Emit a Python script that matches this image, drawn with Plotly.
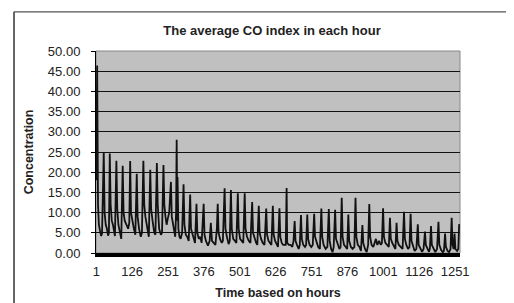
import plotly.graph_objects as go

# Vertices of the hourly CO series (hour, concentration)
hours = [1, 4, 7, 10, 14, 18, 21, 24, 27, 30, 34, 38, 42, 45, 48, 51, 55, 59, 63, 66,
         71, 74, 78, 83, 88, 93, 96, 100, 106, 112, 116, 119, 122, 127, 132, 137, 142, 145, 150, 156,
         160, 165, 168, 172, 178, 184, 189, 192, 197, 203, 207, 212, 215, 220, 226, 230, 235, 238, 242, 246,
         250, 255, 258, 261, 264, 268, 272, 276, 279, 281, 283, 284, 287, 291, 295, 300, 305, 308, 313, 318,
         323, 328, 331, 336, 341, 345, 350, 353, 358, 363, 368, 375, 378, 383, 390, 396, 400, 404, 410, 416,
         421, 424, 427, 432, 438, 442, 448, 451, 456, 462, 466, 470, 473, 478, 484, 489, 494, 497, 502, 508,
         513, 518, 521, 526, 532, 538, 544, 547, 552, 558, 562, 567, 570, 575, 581, 587, 593, 596, 601, 607,
         611, 616, 619, 624, 630, 634, 639, 642, 647, 652, 658, 661, 664, 666, 672, 678, 684, 688, 692, 695,
         700, 706, 710, 714, 717, 722, 728, 732, 736, 739, 744, 750, 755, 760, 763, 768, 774, 780, 785, 788,
         793, 800, 806, 811, 814, 819, 824, 828, 833, 836, 842, 848, 852, 856, 859, 864, 870, 875, 879, 882,
         888, 894, 900, 904, 907, 912, 918, 923, 928, 931, 937, 943, 948, 952, 955, 960, 966, 970, 975, 980,
         986, 992, 996, 1000, 1003, 1008, 1014, 1020, 1024, 1027, 1032, 1038, 1043, 1047, 1050, 1055, 1062, 1068, 1073, 1076,
         1081, 1087, 1092, 1096, 1099, 1104, 1110, 1116, 1121, 1124, 1130, 1136, 1141, 1146, 1149, 1154, 1160, 1163, 1167, 1170,
         1176, 1182, 1188, 1193, 1196, 1202, 1208, 1212, 1216, 1219, 1225, 1230, 1235, 1239, 1242, 1246, 1249, 1252, 1258, 1262,
         1265, 1267]
co_values = [18, 46.4, 12, 7, 5.5, 4.2, 4.8, 12, 25, 10, 7, 6, 4.3, 5, 24.6, 12, 8, 7, 5.5, 4.2,
             22.8, 11, 7, 5.5, 3.5, 21.6, 10, 8, 7, 6, 7.5, 22.8, 10, 7.5, 6, 4.5, 19.6, 9, 6, 4,
             5, 22.8, 12, 9, 6, 4, 20.6, 11, 8, 5, 4.5, 22.3, 12, 6, 4.5, 5, 21.8, 12, 9, 7,
             8.5, 10, 14, 17.6, 9, 7.5, 5.5, 4, 10, 28, 8, 18.8, 6, 4, 3.5, 5, 17, 7, 4.5, 4,
             3, 14.5, 6, 4.5, 3.5, 2.5, 12.2, 5, 3.5, 4, 2.5, 12.2, 4.5, 3, 1.8, 3, 7.5, 3, 2.5, 2,
             6, 12.2, 5, 3.5, 2.5, 3, 16, 6, 4, 2.2, 3, 15.6, 6, 3.5, 3, 2.5, 14.8, 6, 3.5, 3,
             2.5, 14.8, 6, 4, 3, 2.5, 12.6, 5, 3.5, 2.5, 2, 11.7, 5, 3.5, 2.5, 2, 11, 4.5, 3, 2.2,
             2, 11.7, 4.5, 3, 2, 1.5, 11.1, 4, 2.5, 2, 2, 2, 16.1, 2.5, 2, 2, 1.5, 3, 7.9, 3,
             2, 1, 2, 9.4, 3.5, 2, 1.5, 2, 9.5, 3.5, 2, 1.5, 2, 9.7, 4, 2.5, 1.5, 1, 11, 4,
             2, 1, 1.5, 10.9, 3, 1, 0.2, 1.5, 10.7, 3.5, 2, 1, 1.5, 13.7, 4, 2, 1.5, 1, 9.5, 3,
             1.5, 1, 1.5, 13.7, 4, 2, 1.5, 0.5, 6.9, 2.5, 1, 0.2, 2, 12.1, 4, 2, 1.5, 2.5, 3.5, 2,
             3, 2, 2.5, 11.1, 4, 2.5, 2, 1.5, 8.7, 3.5, 2.5, 1.5, 1, 7.5, 3, 2, 1.5, 1, 10.2, 3.5,
             2, 1, 1.5, 9.7, 3, 1.5, 0.5, 1, 7.1, 2, 1, 0.3, 1, 5.3, 2, 1, 0.3, 1, 6.7, 2,
             1, 0.2, 1, 7.7, 2, 0.8, 0.2, 0.5, 4.8, 1.5, 0.5, 0.2, 1, 8.7, 2, 1, 4.8, 1, 0.5, 1,
             7.1, 6.5]

x_tick_vals = [1, 126, 251, 376, 501, 626, 751, 876, 1001, 1126, 1251]
y_tick_vals = [0, 5, 10, 15, 20, 25, 30, 35, 40, 45, 50]
y_tick_text = ["%.2f" % v for v in y_tick_vals]

FONT = "Liberation Sans, Arial, sans-serif"

fig = go.Figure()
fig.add_trace(go.Scatter(
    x=hours, y=co_values, mode="lines",
    line=dict(color="#111111", width=1.8),
    showlegend=False, hoverinfo="skip",
))

L, R, T, B = 88, 62, 43, 54
W, H = 514, 303
pw, ph = W - L - R, H - T - B

def px_x(p):
    return (p - L) / pw

def px_y(p):
    return (H - B - p) / ph

fig.update_layout(
    width=W, height=H,
    margin=dict(l=L, r=R, t=T, b=B, pad=0),
    paper_bgcolor="white",
    plot_bgcolor="#c0c0c0",
    font=dict(family=FONT, size=12, color="#222222"),
    title=dict(text="<b>The average CO index in each hour</b>",
               x=264 / W, xanchor="center", xref="container",
               y=1 - 22 / H, yanchor="middle", yref="container",
               font=dict(size=13, color="#222222")),
    xaxis=dict(
        range=[0, 1268],
        tickmode="array", tickvals=x_tick_vals,
        ticks="", showgrid=False, zeroline=False,
        showline=True, linecolor="#000000", linewidth=4,
        ticklabelstandoff=3,
        tickfont=dict(size=13, color="#222222"),
        title=dict(text="<b>Time based on hours</b>", standoff=12,
                   font=dict(size=12.5, color="#222222")),
    ),
    yaxis=dict(
        range=[0, 50],
        tickmode="array", tickvals=y_tick_vals, ticktext=y_tick_text,
        ticks="outside", ticklen=4, tickcolor="#000000",
        showgrid=True, gridcolor="#111111", gridwidth=1,
        zeroline=False,
        showline=True, linecolor="#000000", linewidth=1,
        ticklabelstandoff=8,
        tickfont=dict(size=13, color="#222222"),
        title=dict(text="<b>Concentration</b>", standoff=11,
                   font=dict(size=12.5, color="#222222")),
    ),
    shapes=[
        # plot-area border (top / right)
        dict(type="rect", xref="paper", yref="paper", x0=0, x1=1, y0=0, y1=1,
             line=dict(color="#888888", width=1), layer="below"),
        # outer chart frame
        dict(type="line", xref="paper", yref="paper",
             x0=px_x(6), x1=px_x(6), y0=px_y(3), y1=px_y(310),
             line=dict(color="#333333", width=1.5)),
        dict(type="line", xref="paper", yref="paper",
             x0=px_x(6), x1=px_x(510), y0=px_y(3), y1=px_y(3),
             line=dict(color="#555555", width=1.2)),
        dict(type="line", xref="paper", yref="paper",
             x0=px_x(510), x1=px_x(510), y0=px_y(3), y1=px_y(310),
             line=dict(color="#555555", width=1.2)),
    ],
)

fig.write_html("out.html")
